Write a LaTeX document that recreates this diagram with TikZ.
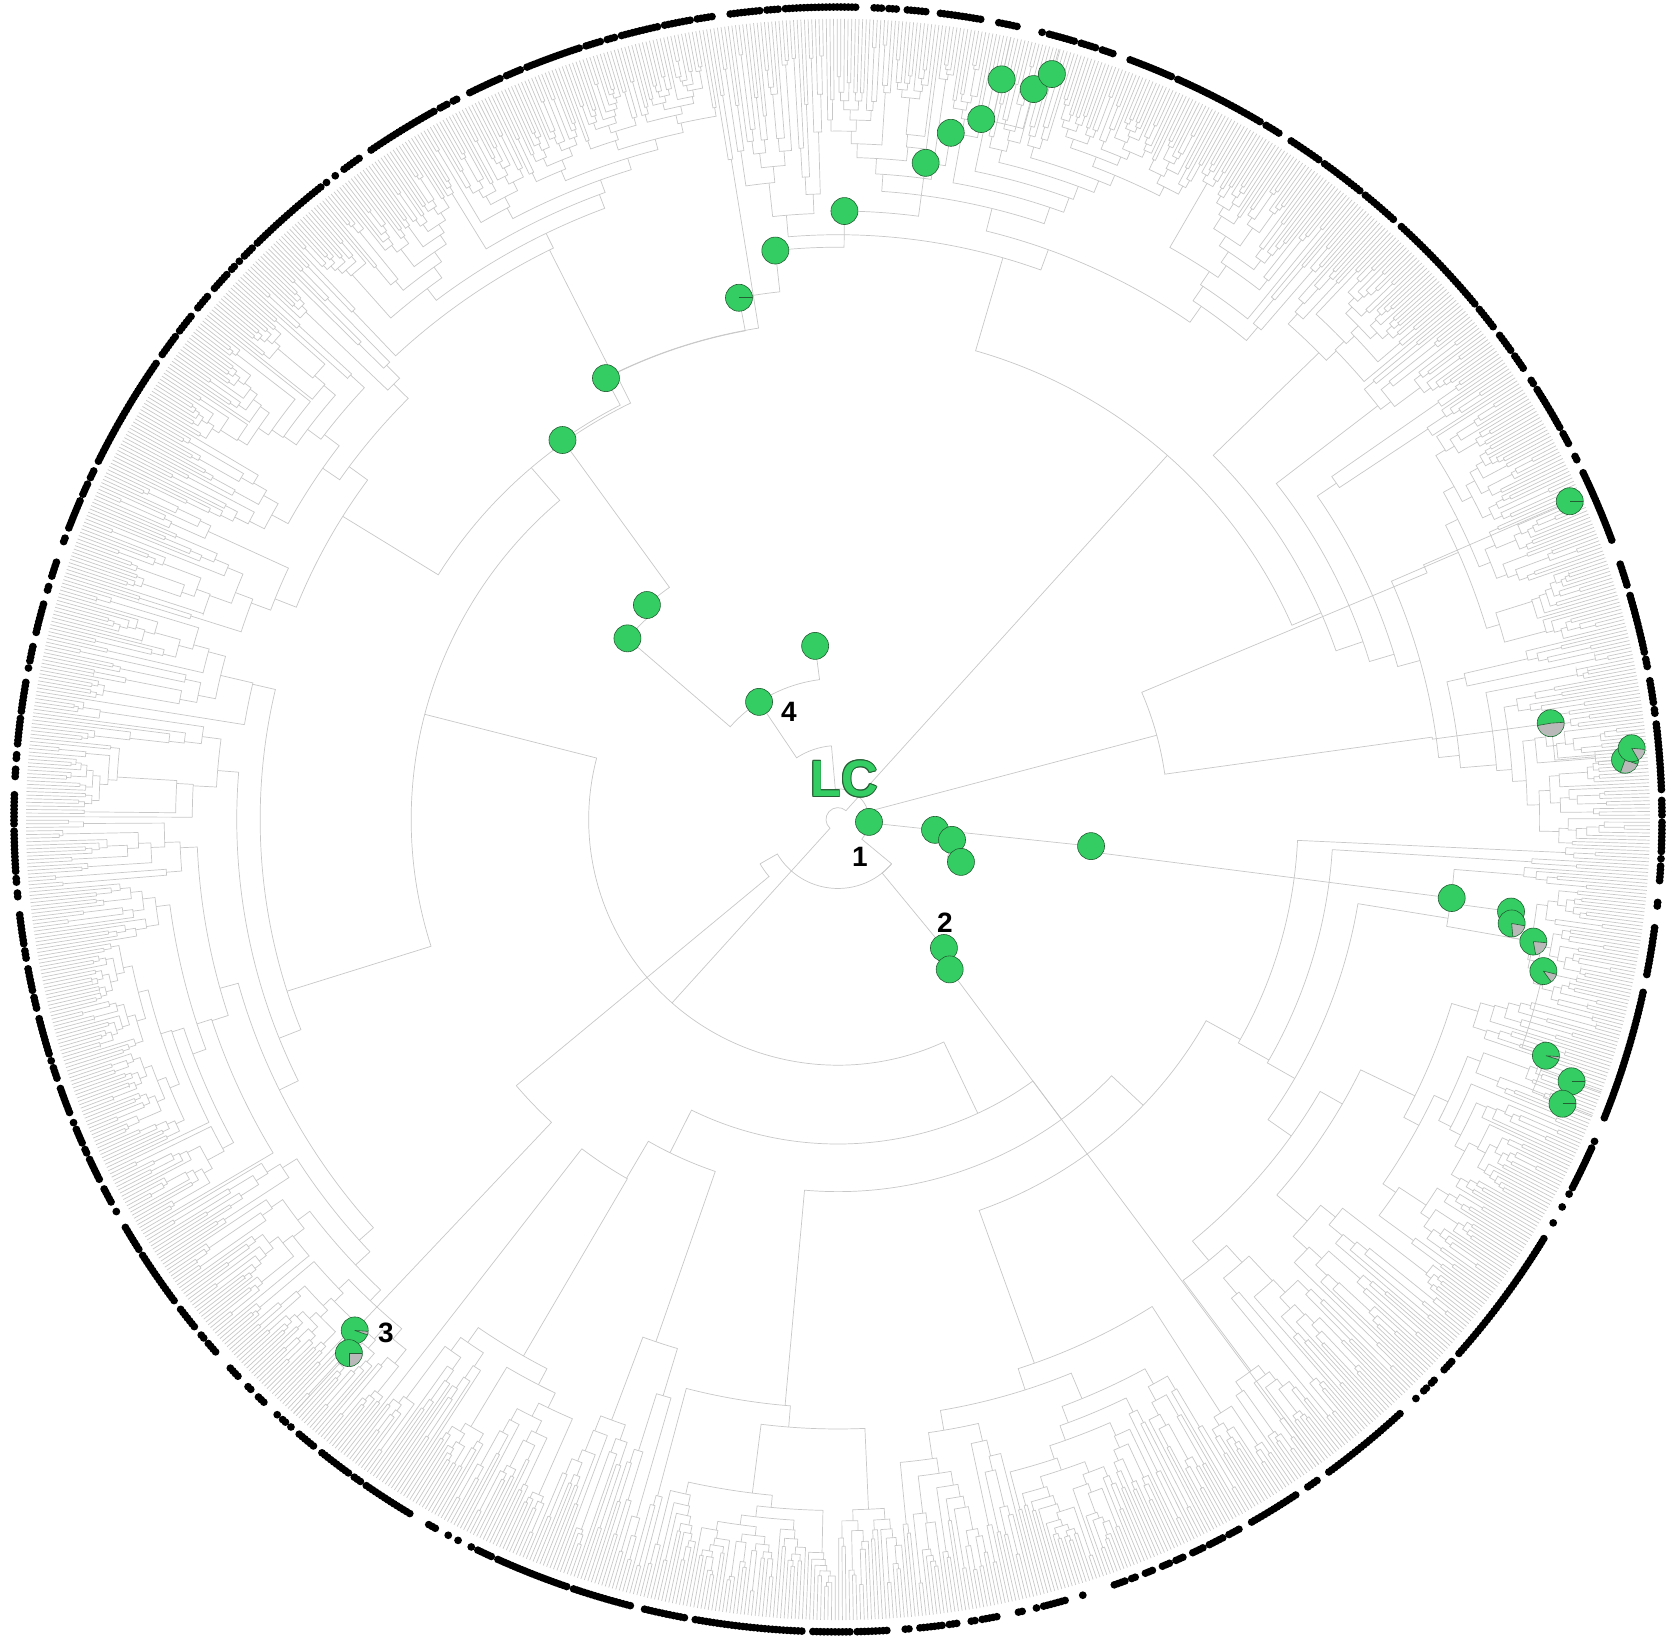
\documentclass[tikz,border=0pt]{standalone}
\usepackage{fontspec}
\setmainfont{Liberation Sans}
\definecolor{brc}{RGB}{200,200,200}
\definecolor{lcgreen}{RGB}{52,205,100}
\definecolor{lcdark}{RGB}{35,95,50}
\definecolor{pgray}{RGB}{185,185,185}
\def\NT{1400}
\def\tipR{812}
\def\dotR{824}
\def\thO{-2}
\pgfmathsetmacro\stp{360/\NT}
\gdef\dst{1}
% child radius: #1 macro, #2 tips, #3 parent radius
\def\childrad#1#2#3{%
  \ifnum#2=1 \edef#1{#3}%
  \else
    \pgfmathsetmacro#1{max(\tipR-790*(ln(#2)/7.244)^0.9*(0.25+0.8*rnd), #3+0.1*(\tipR-#3))}%
  \fi}
% clade: #1 first tip index, #2 number of tips, #3 node radius
\def\mkclade#1#2#3{%
  \begingroup
  \ifnum#2=1\relax
    \pgfmathsetmacro\ang{\thO+#1*\stp}%
    \draw[br] (\ang:#3) -- (\ang:\tipR);%
    \pgfmathsetmacro\u{rnd}%
    \ifnum\dst=1 \ifdim\u pt<0.14pt \gdef\dst{0}\fi\else\ifdim\u pt<0.45pt \gdef\dst{1}\fi\fi
    \ifnum\dst=1 \fill[black] (\ang:\dotR) circle[radius=3.9];\fi
  \else
    \pgfmathtruncatemacro\k{min(#2-1,1+floor(rnd*(#2-1)))}%
    \pgfmathtruncatemacro\kk{#2-\k}%
    \pgfmathtruncatemacro\jj{#1+\k}%
    \pgfmathsetmacro\ma{\thO+(#1+(\k-1)/2)*\stp}%
    \pgfmathsetmacro\mb{\thO+(\jj+(\kk-1)/2)*\stp}%
    \childrad\ra\k{#3}%
    \childrad\rb\kk{#3}%
    \draw[br] (\ma:\ra) -- (\ma:#3) arc[start angle=\ma, end angle=\mb, radius=#3] -- (\mb:\rb);%
    \edef\next{\noexpand\mkclade{#1}{\k}{\ra}\noexpand\mkclade{\jj}{\kk}{\rb}}%
    \next
  \fi
  \endgroup}
\newcommand\bb[4]{\draw[br] (#1:#2) arc[start angle=#1, end angle=#3, radius=#2] -- (#3:#4);}
\newcommand\pieslice[3]{%
  \fill[pgray] (#1.center) -- ++(#2:13pt) arc[start angle=#2, end angle=#3, radius=13pt] -- cycle;
  \draw[lcdark, line width=0.6pt] (#1.center) -- ++(#2:13.3pt) (#1.center) -- ++(#3:13.3pt);}
\newcommand\tickr[1]{\draw[lcdark, line width=1.2pt] (#1.center) -- ++(0:13.3pt);}
\begin{document}
\begin{tikzpicture}[x=1pt,y=0.986pt,
  br/.style={draw=brc, line width=0.7pt},
  gnode/.style={circle, fill=lcgreen, draw=lcdark, line width=0.6pt, minimum size=27pt, inner sep=0pt},
  num/.style={font=\fontsize{28}{30}\selectfont\bfseries, text=black, inner sep=0pt},
  lcf/.style={font=\fontsize{51}{56}\selectfont\bfseries, inner sep=0pt}]
\fill[white] (-838,-835.2) rectangle (841,831.1);
\useasboundingbox (-838,-835.2) rectangle (841,831.1);
\pgfmathsetseed{2718}
\mkclade{0}{\NT}{12}
% backbone through reconstructed nodes
\bb{-4.6}{31.1}{95}{75}
\bb{95}{75}{123.5}{143}
\bb{123.5}{143}{97.4}{177.5}
\bb{123.5}{143}{138.9}{279.4}
\bb{138.9}{279.4}{131.3}{289.5}
\bb{131.3}{289.5}{125.6}{473.3}
\bb{125.6}{473.3}{117.4}{504.2}
\bb{117.4}{504.2}{100.6}{538.3}
\bb{100.6}{538.3}{96.2}{580.4}
\bb{96.2}{580.4}{89.4}{617.1}
\bb{89.4}{617.1}{82.5}{671.7}
\bb{82.5}{671.7}{80.8}{705.5}
\bb{80.8}{705.5}{78.6}{724.7}
\bb{78.6}{724.7}{77.7}{768.3}
\bb{78.6}{724.7}{75.2}{766.2}
\bb{75.2}{766.2}{74.2}{785.7}
\bb{77.7}{768.3}{77.7}{812}
\bb{74.2}{785.7}{74.2}{812}
\bb{-4.6}{31.1}{-6.2}{97.6}
\bb{-6.2}{97.6}{-10.3}{115.9}
\bb{-10.3}{115.9}{-19.3}{130.3}
\bb{-6.2}{97.6}{-6.1}{254.5}
\bb{-6.1}{254.5}{-7.4}{618.9}
\bb{-7.4}{618.9}{-7.9}{679.5}
\bb{-7.9}{679.5}{-8.9}{681.9}
\bb{-8.9}{681.9}{-10.1}{706.3}
\bb{-10.1}{706.3}{-12.3}{722}
\bb{-12.3}{722}{-18.7}{747.4}
\bb{-18.7}{747.4}{-19.9}{780.2}
\bb{-18.7}{747.4}{-21.7}{779.8}
\bb{-19.9}{780.2}{-19.9}{812}
\bb{-21.7}{779.8}{-21.7}{812}
\bb{-4.6}{31.1}{-40}{70}
\bb{-40}{70}{-50.9}{168}
\bb{-50.9}{168}{-53.7}{188.7}
\bb{-53.7}{188.7}{-53.7}{812}
\bb{-40}{70}{-150}{90}
\bb{-150}{90}{-140}{420}
\bb{-140}{420}{-133}{640}
\bb{-133}{640}{-133}{708.6}
\bb{-133}{708.6}{-132.1}{729.5}
\bb{-132.1}{729.5}{-132.1}{812}
\bb{-4.6}{31.1}{15}{330}
\bb{15}{330}{8}{600}
\bb{8}{600}{7.8}{719.4}
\bb{7.8}{719.4}{4.8}{760}
\bb{4.8}{760}{5.2}{797}
\bb{4.8}{760}{4.4}{789.4}
\bb{15}{330}{23}{640}
\bb{23}{640}{23.8}{799.8}
% green nodes
\node[gnode] (g1) at (-4.6:31.1) {};
\node[gnode] (g4a) at (123.5:143) {};
\node[gnode] (g4b) at (97.4:177.5) {};
\node[gnode] (g4c) at (138.9:279.4) {};
\node[gnode] (g4d) at (131.3:289.5) {};
\node[gnode] (gt6) at (125.6:473.3) {};
\node[gnode] (gt7) at (117.4:504.2) {};
\node[gnode] (gt8) at (100.6:538.3) {};
\tickr{gt8}
\node[gnode] (gt9) at (96.2:580.4) {};
\node[gnode] (gt10) at (89.4:617.1) {};
\node[gnode] (gt11) at (82.5:671.7) {};
\node[gnode] (gt12) at (80.8:705.5) {};
\node[gnode] (gt13) at (78.6:724.7) {};
\node[gnode] (gt14) at (77.7:768.3) {};
\node[gnode] (gt15) at (75.2:766.2) {};
\node[gnode] (gt16) at (74.2:785.7) {};
\node[gnode] (gr17) at (-6.2:97.6) {};
\node[gnode] (gr18) at (-10.3:115.9) {};
\node[gnode] (gr19) at (-19.3:130.3) {};
\node[gnode] (gr20) at (-6.1:254.5) {};
\node[gnode] (gr21) at (-7.4:618.9) {};
\node[gnode] (gr22) at (-7.9:679.5) {};
\node[gnode] (gr23) at (-8.9:681.9) {};
\pieslice{gr23}{-85}{-10}
\node[gnode] (gr24) at (-10.1:706.3) {};
\pieslice{gr24}{-80}{-5}
\node[gnode] (gr25) at (-12.3:722) {};
\pieslice{gr25}{-54}{-14}
\node[gnode] (gr26) at (-18.7:747.4) {};
\pieslice{gr26}{-17}{-4}
\node[gnode] (gr27) at (-19.9:780.2) {};
\tickr{gr27}
\node[gnode] (gr28) at (-21.7:779.8) {};
\tickr{gr28}
\node[gnode] (g2a) at (-50.9:168) {};
\node[gnode] (g2b) at (-53.7:188.7) {};
\node[gnode] (g3a) at (227:708.6) {};
\pieslice{g3a}{-19}{-4}
\node[gnode] (g3b) at (227.9:729.5) {};
\pieslice{g3b}{-90}{0}
\node[gnode] (gq33) at (23.8:799.8) {};
\tickr{gq33}
\node[gnode] (gq34) at (7.8:719.4) {};
\pieslice{gq34}{190}{364}
\node[gnode] (gq36) at (4.4:789.4) {};
\pieslice{gq36}{-110}{-20}
\node[gnode] (gq35) at (5.2:797) {};
\pieslice{gq35}{-60}{-5}
% labels
\foreach \dx/\dy in {0.9/0,-0.9/0,0/0.9,0/-0.9,0.65/0.65,-0.65/0.65,0.65/-0.65,-0.65/-0.65}
  \node[lcf, text=lcdark, xshift=\dx pt, yshift=\dy pt] at (6,41.1) {LC};
\node[lcf, text=lcgreen] (lc) at (6,41.1) {LC};
\node[num] (l1) at (22,-38) {1};
\node[num] (l2) at (107,-105) {2};
\node[num] (l3) at (-452,-520.8) {3};
\node[num] (l4) at (-49,109) {4};
\end{tikzpicture}
\end{document}
